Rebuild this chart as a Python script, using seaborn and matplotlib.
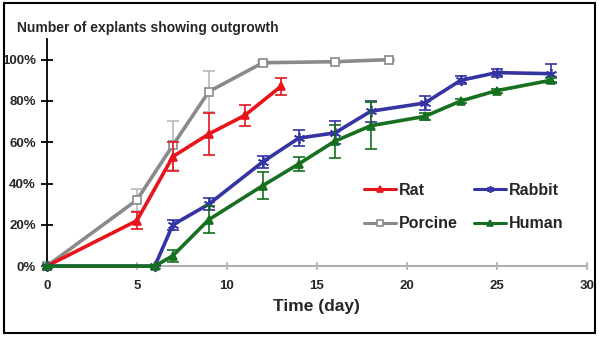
import matplotlib
matplotlib.use("Agg")
import matplotlib.pyplot as plt
import seaborn as sns
import pandas as pd
from matplotlib.patches import Rectangle
from matplotlib.ticker import FuncFormatter

# ---- data ----
days_rat = [0, 5, 7, 9, 11, 13]
rat = [0, 22, 53, 64, 73, 87]
rat_err = [0, 4, 7, 10, 5, 4]

days_porcine = [0, 5, 7, 9, 12, 16, 19]
porcine = [0, 32, 58.5, 84.5, 98.5, 99, 100]
porcine_err = [0, 5.5, 12, 10, 1, 0.5, 0.5]

days_rabbit = [0, 6, 7, 9, 12, 14, 16, 18, 21, 23, 25, 28]
rabbit = [0, 0, 20, 30, 50.5, 62, 64.5, 75, 79, 90, 93.7, 93.2]
rabbit_err = [0, 0, 2.5, 3, 3, 3.7, 5.6, 5, 3.5, 2, 2, 4.5]

days_human = [0, 6, 7, 9, 12, 14, 16, 18, 21, 23, 25, 28]
human = [0, 0, 5, 22.5, 39, 49.5, 60.5, 68, 72.5, 80, 85, 90]
human_err = [0, 0, 3, 6.5, 6.5, 3.5, 8, 11.5, 1.5, 1, 1, 1]

x_ticks = [0, 5, 10, 15, 20, 25, 30]
y_ticks = [0, 20, 40, 60, 80, 100]

sns.set_style("white")
plt.rcParams["font.family"] = ["Liberation Sans", "DejaVu Sans"]
plt.rcParams["font.weight"] = "bold"

fig = plt.figure(figsize=(6.0, 3.39), dpi=100)
ax = fig.add_axes([0.078, 0.215, 0.900, 0.670])

series = [
    ("Porcine", days_porcine, porcine, porcine_err, "#8a8a8a", "#b8b8b8", "s", "white", 5.5),
    ("Rat", days_rat, rat, rat_err, "#e8141c", "#e8141c", "^", "#e8141c", 6),
    ("Rabbit", days_rabbit, rabbit, rabbit_err, "#3434a2", "#3434a2", (6, 2, 0), "#3434a2", 8),
    ("Human", days_human, human, human_err, "#17701f", "#17701f", "^", "#17701f", 6),
]

handles = {}
for i, (name, xs, ys, es, col, ecol, mk, mfc, ms) in enumerate(series):
    ax.errorbar(xs, ys, yerr=es, fmt="none", ecolor=ecol, elinewidth=1.2,
                capsize=4, capthick=1.2, zorder=2 + i, clip_on=False)
    df = pd.DataFrame({"day": xs, "pct": ys})
    sns.lineplot(data=df, x="day", y="pct", ax=ax, color=col, lw=2.6,
                 marker=mk, markersize=ms, markerfacecolor=mfc,
                 markeredgecolor=col, markeredgewidth=1.2, zorder=3 + i,
                 clip_on=False, label=name, legend=False)
    handles[name] = ax.lines[-1]

ax.set_xlim(0, 30)
ax.set_ylim(0, 110)
ax.set_xticks(x_ticks)
ax.set_yticks(y_ticks)
ax.yaxis.set_major_formatter(FuncFormatter(lambda v, p: f"{int(v)}%"))

for s in ["top", "right"]:
    ax.spines[s].set_visible(False)
ax.spines["left"].set_color("black")
ax.spines["left"].set_linewidth(1.3)
ax.spines["bottom"].set_color("#b0b0b0")
ax.spines["bottom"].set_linewidth(1.5)

ax.tick_params(axis="y", direction="inout", length=8, width=1.3, color="black",
               labelsize=9.5, pad=4, left=True)
ax.tick_params(axis="x", direction="inout", length=6, width=1.2, color="#b0b0b0",
               labelsize=9.5, pad=7, bottom=True)
for lab in ax.get_xticklabels() + ax.get_yticklabels():
    lab.set_fontweight("bold")

ax.set_xlabel("Time (day)", fontsize=12.5, fontweight="bold", labelpad=5)
ax.set_ylabel("")

fig.text(0.028, 0.918, "Number of explants showing outgrowth", fontsize=10,
         fontweight="bold", ha="left", va="center")

order = ["Rat", "Porcine", "Rabbit", "Human"]
leg = ax.legend([handles[n] for n in order], order, ncol=2, frameon=False,
                loc="upper left", bbox_to_anchor=(0.575, 0.395),
                prop={"size": 11.5, "weight": "bold"},
                handlelength=2.0, handletextpad=0.2, columnspacing=1.0,
                labelspacing=1.15, borderaxespad=0)
for h in leg.legend_handles:
    h.set_linewidth(2.2)
    h.set_markersize(5)

fig.patches.append(Rectangle((0.006, 0.017), 0.985, 0.974, transform=fig.transFigure,
                             fill=False, edgecolor="black", linewidth=1.5))

fig.savefig("out.png", dpi=100)
